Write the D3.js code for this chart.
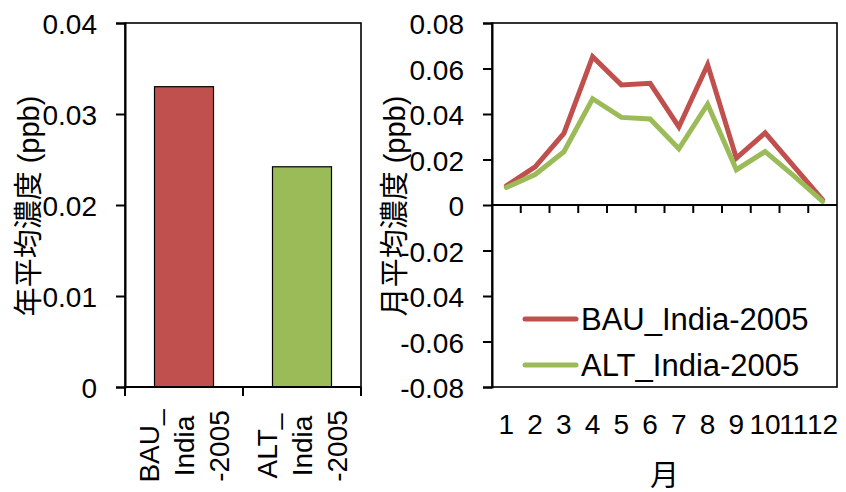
<!DOCTYPE html>
<html>
<head>
<meta charset="utf-8">
<script src="https://cdn.jsdelivr.net/npm/d3@7"></script>
<style>
  html, body { margin: 0; padding: 0; background: #fff; }
  svg { display: block; }
  text { font-family: "Liberation Sans", Arial, "Noto Sans CJK JP", sans-serif; fill: #000; }
</style>
</head>
<body>
<svg id="chart" width="846" height="492"></svg>
<script>
// Annual mean concentration per scenario
const scenarios = ["BAU_India-2005", "ALT_India-2005"];
const scenarioLines = [["BAU_", "India", "-2005"], ["ALT_", "India", "-2005"]];
const annualMean = [0.0330, 0.0242];

// Monthly mean concentration per scenario
const months = ["1", "2", "3", "4", "5", "6", "7", "8", "9", "10", "11", "12"];
const bauMonthly = [0.0084, 0.0168, 0.0315, 0.0652, 0.0528, 0.0535, 0.0343, 0.0617, 0.0206, 0.0317, 0.0170, 0.0022];
const altMonthly = [0.0077, 0.0134, 0.0234, 0.0467, 0.0385, 0.0378, 0.0247, 0.0443, 0.0155, 0.0235, 0.0128, 0.0016];

const leftTicks = [0, 0.01, 0.02, 0.03, 0.04];
const rightTicks = [-0.08, -0.06, -0.04, -0.02, 0, 0.02, 0.04, 0.06, 0.08];

const colors = ["#C0504D", "#9BBB59"];

const svg = d3.select("#chart");

// ---------- Left panel: annual mean bars ----------
const L = { left: 125, right: 361, top: 23, bottom: 387 };
const yL = d3.scaleLinear().domain([0, 0.04]).range([L.bottom, L.top]);
const xL = d3.scaleBand().domain(scenarios).range([L.left, L.right]).paddingInner(0.5).paddingOuter(0.25);
const stepL = (L.right - L.left) / scenarios.length;

const gL = svg.append("g");

gL.selectAll("rect.bar").data(annualMean).join("rect")
  .attr("class", "bar")
  .attr("x", (d, i) => xL(scenarios[i]))
  .attr("width", xL.bandwidth())
  .attr("y", d => yL(d))
  .attr("height", d => yL(0) - yL(d))
  .attr("fill", (d, i) => colors[i])
  .attr("stroke", "#000")
  .attr("stroke-width", 1.2);

// frame
gL.append("rect")
  .attr("x", L.left).attr("y", L.top)
  .attr("width", L.right - L.left).attr("height", L.bottom - L.top)
  .attr("fill", "none").attr("stroke", "#000").attr("stroke-width", 1.6);

// y axis
const yAxisL = d3.axisLeft(yL).tickValues(leftTicks).tickFormat(d => d === 0 ? "0" : d3.format(".2f")(d)).tickSize(9).tickPadding(19);
gL.append("g").attr("transform", `translate(${L.left},0)`).call(yAxisL)
  .call(g => g.select(".domain").attr("stroke-width", 2))
  .call(g => g.selectAll(".tick line").attr("stroke-width", 2))
  .call(g => g.selectAll(".tick text").attr("font-size", 28).attr("dy", "0.38em")
    .style("font-family", '"Liberation Sans", Arial, sans-serif'));

// x baseline with category boundary ticks
gL.append("line").attr("x1", L.left).attr("x2", L.right).attr("y1", L.bottom).attr("y2", L.bottom)
  .attr("stroke", "#000").attr("stroke-width", 2);
d3.range(scenarios.length + 1).forEach(i => {
  const x = L.left + i * stepL;
  gL.append("line").attr("x1", x).attr("x2", x).attr("y1", L.bottom).attr("y2", L.bottom + 9)
    .attr("stroke", "#000").attr("stroke-width", 2);
});

// category labels (rotated, wrapped in three lines)
scenarios.forEach((s, i) => {
  const cx = xL(s) + xL.bandwidth() / 2;
  scenarioLines[i].forEach((line, j) => {
    gL.append("text")
      .attr("transform", `translate(${cx + (j - 1) * 35},446) rotate(-90)`)
      .attr("text-anchor", "middle")
      .attr("dy", "0.36em")
      .attr("font-size", 28)
      .text(line);
  });
});

// y title
gL.append("text")
  .attr("transform", `translate(29,206) rotate(-90)`)
  .attr("text-anchor", "middle")
  .attr("dy", "0.36em")
  .attr("font-size", 29)
  .text("年平均濃度 (ppb)");

// ---------- Right panel: monthly mean lines ----------
const R = { left: 492, right: 837, top: 23, bottom: 387 };
const yR = d3.scaleLinear().domain([-0.08, 0.08]).range([R.bottom, R.top]);
const xBand = d3.scaleBand().domain(months).range([R.left, R.right]);
const xR = d3.scalePoint().domain(months).range([R.left, R.right]).padding(0.5);

const gR = svg.append("g");

gR.append("rect")
  .attr("x", R.left).attr("y", R.top)
  .attr("width", R.right - R.left).attr("height", R.bottom - R.top)
  .attr("fill", "none").attr("stroke", "#000").attr("stroke-width", 1.6);

const yAxisR = d3.axisLeft(yR).tickValues(rightTicks)
  .tickFormat(d => d === 0 ? "0" : d3.format(".2f")(d).replace("−", "-"))
  .tickSize(9).tickPadding(19);
gR.append("g").attr("transform", `translate(${R.left},0)`).call(yAxisR)
  .call(g => g.select(".domain").attr("stroke-width", 2))
  .call(g => g.selectAll(".tick line").attr("stroke-width", 2))
  .call(g => g.selectAll(".tick text").attr("font-size", 28).attr("dy", "0.38em")
    .style("font-family", '"Liberation Sans", Arial, sans-serif'));

// zero line with month boundary ticks
const y0 = yR(0);
gR.append("line").attr("x1", R.left).attr("x2", R.right).attr("y1", y0).attr("y2", y0)
  .attr("stroke", "#000").attr("stroke-width", 2);
months.slice(1).forEach(m => {
  const x = xBand(m);
  gR.append("line").attr("x1", x).attr("x2", x).attr("y1", y0).attr("y2", y0 + 8)
    .attr("stroke", "#000").attr("stroke-width", 2);
});

// month labels
gR.selectAll("text.month").data(months).join("text")
  .attr("class", "month")
  .attr("x", d => xR(d))
  .attr("y", 424)
  .attr("dy", "0.36em")
  .attr("text-anchor", "middle")
  .attr("font-size", 28)
  .text(d => d);

// lines
const line = d3.line().x((d, i) => xR(months[i])).y(d => yR(d));
[bauMonthly, altMonthly].forEach((series, k) => {
  gR.append("path")
    .attr("d", line(series))
    .attr("fill", "none")
    .attr("stroke", colors[k])
    .attr("stroke-width", 5)
    .attr("stroke-linejoin", "miter")
    .attr("stroke-linecap", "round");
});

// legend
scenarios.forEach((s, i) => {
  const ly = 319 + i * 46;
  gR.append("line").attr("x1", 525).attr("x2", 576).attr("y1", ly).attr("y2", ly)
    .attr("stroke", colors[i]).attr("stroke-width", 5).attr("stroke-linecap", "round");
  gR.append("text").attr("x", 581).attr("y", ly).attr("dy", "0.36em")
    .attr("font-size", 31).text(s);
});

// titles
gR.append("text")
  .attr("transform", `translate(395,206) rotate(-90)`)
  .attr("text-anchor", "middle")
  .attr("dy", "0.36em")
  .attr("font-size", 29)
  .text("月平均濃度 (ppb)");

gR.append("text")
  .attr("x", (R.left + R.right) / 2)
  .attr("y", 476)
  .attr("dy", "0.36em")
  .attr("text-anchor", "middle")
  .attr("font-size", 29)
  .text("月");
</script>
</body>
</html>
